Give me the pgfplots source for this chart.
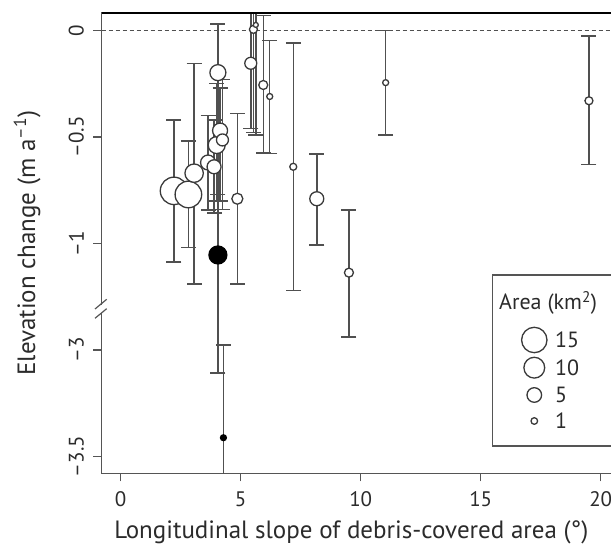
\documentclass[border=0pt]{standalone}
\usepackage{fontspec}
\setmainfont{PT Sans}
\usepackage{pgfplots}
\usepackage{pgfplotstable}
\pgfplotsset{compat=1.18}
\definecolor{barc}{HTML}{505050}
\definecolor{circc}{HTML}{3A3A3A}
\definecolor{axc}{HTML}{555555}
\definecolor{txtc}{HTML}{2B2B2B}

% y values below the break are stored shifted by +1.5 (so -3 -> -1.5)
\pgfplotstableread{
x     y       top     bot     r
2.22  -0.753  -0.42   -1.087  13.7
2.82  -0.77   -0.52   -1.02   13.3
3.06  -0.67   -0.154  -1.19   9.2
3.64  -0.62   -0.40   -0.843  7.5
3.89  -0.64   -0.42   -0.857  7
4.00  -0.538  -0.25   -0.80   8.5
4.05  -0.198  0.03    -0.77   8
4.14  -0.47   -0.27   -0.80   7.5
4.24  -0.514  -0.23   -0.84   6
4.86  -0.79   -0.39   -1.19   5.5
5.42  -0.154  0.30    -0.46   6
5.53  0.005   0.30    -0.48   4
5.63  0.026   0.30    -0.49   2.5
5.94  -0.256  0.07    -0.576  4.5
6.21  -0.31   -0.048  -0.577  3
7.19  -0.64   -0.06   -1.22   3.5
8.17  -0.79   -0.58   -1.007  7
9.51  -1.137  -0.843  -1.44   4.5
11.04 -0.245  0.0     -0.49   3
19.51 -0.33   -0.026  -0.63   4
}\glaciers

\pgfplotstableread{
x     y       top     bot     r
4.05  -1.054  -0.55   -1.607  9
4.28  -1.912  -1.477  -2.5    3
}\blackpts

\newcommand{\tickfont}{\fontsize{21bp}{25bp}\selectfont}
\newcommand{\legfont}{\fontsize{22bp}{26bp}\selectfont}
\newcommand{\lblfont}{\fontsize{25bp}{30bp}\selectfont}

\begin{document}
\begin{tikzpicture}
\begin{axis}[
  at={(101.5bp,70.7bp)}, anchor=south west,
  scale only axis,
  width=518.4bp, height=460.3bp,
  xmin=-0.8, xmax=20.8,
  ymin=-2.079, ymax=0.082,
  axis line style={draw=axc, line width=1.2bp},
  tick pos=left,
  tick align=outside,
  major tick length=8bp,
  tick style={draw=axc, line width=1.2bp},
  xtick={0,5,10,15,20},
  ytick={0,-0.5,-1,-1.5,-2},
  yticklabels={0,–0.5,–1,–3,–3.5},
  xticklabels={0,5,10,15,20},
  tick label style={font=\tickfont, text=txtc},
  xticklabel style={yshift=-7bp},
  yticklabel style={xshift=-6bp, rotate=90, anchor=south},
  every axis x label/.style={at={(axis description cs:0.482,-0.1406)}, anchor=base},
  every axis y label/.style={at={(axis description cs:-0.128,0.5)}, rotate=90, anchor=base},
  label style={font=\lblfont, text=txtc},
  xlabel={Longitudinal slope of debris-covered area (°)},
  ylabel={Elevation change (m a\textsuperscript{–1})},
]
\draw[barc, line width=1.4bp, dash pattern=on 4bp off 3bp]
  (axis cs:-0.8,0) -- (axis cs:20.8,0);

% error bars
\addplot[draw=none, mark=none, forget plot,
  error bars/.cd, y dir=both, y explicit,
  error bar style={draw=barc, line width=1.5bp},
  error mark options={rotate=90, draw=barc, line width=1.5bp, mark size=7.5bp}]
  table[x=x, y=y, y error plus expr=\thisrow{top}-\thisrow{y},
        y error minus expr=\thisrow{y}-\thisrow{bot}] {\glaciers};
\addplot[draw=none, mark=none, forget plot,
  error bars/.cd, y dir=both, y explicit,
  error bar style={draw=barc, line width=1.5bp},
  error mark options={rotate=90, draw=barc, line width=1.5bp, mark size=7.5bp}]
  table[x=x, y=y, y error plus expr=\thisrow{top}-\thisrow{y},
        y error minus expr=\thisrow{y}-\thisrow{bot}] {\blackpts};

% circles sized by area
\addplot[scatter, only marks, mark=*,
  scatter/use mapped color={draw=circc, fill=white},
  mark options={line width=1.3bp},
  visualization depends on={\thisrow{r} \as \rr},
  scatter/@pre marker code/.append style={/tikz/mark size=\rr bp}]
  table[x=x, y=y, meta=r] {\glaciers};
\addplot[scatter, only marks, mark=*,
  scatter/use mapped color={draw=black, fill=black},
  mark options={line width=1.2bp},
  visualization depends on={\thisrow{r} \as \rr},
  scatter/@pre marker code/.append style={/tikz/mark size=\rr bp}]
  table[x=x, y=y, meta=r] {\blackpts};

\draw[black, line width=1.5bp] (axis cs:-0.8,0.082) -- (axis cs:20.8,0.082);
\end{axis}

% pixel-style coordinates (origin top left)
\begin{scope}[x=1bp, y=-1bp, shift={(0bp,544bp)}]
  % axis break
  \fill[white] (97,305) rectangle (106,313);
  \draw[axc, line width=1.2bp] (95,309) -- (106.7,299.3);
  \draw[axc, line width=1.2bp] (95,318.3) -- (106.7,308.7);
  % legend
  \draw[axc, line width=1.2bp, fill=white] (640,275) -- (492.3,275) -- (492.3,446) -- (640,446);
  \node[font=\legfont, text=txtc, anchor=west, inner sep=0pt] at (499,303) {Area (km\textsuperscript{2})};
  \draw[circc, line width=1.3bp] (534.3,340) circle (12.7);
  \draw[circc, line width=1.3bp] (534.3,367.7) circle (10.4);
  \draw[circc, line width=1.3bp] (534.3,395) circle (7.3);
  \draw[circc, line width=1.3bp] (534.3,421) circle (3.3);
  \node[font=\legfont, text=txtc, anchor=west, inner sep=0pt] at (555,340) {15};
  \node[font=\legfont, text=txtc, anchor=west, inner sep=0pt] at (555,367.7) {10};
  \node[font=\legfont, text=txtc, anchor=west, inner sep=0pt] at (555,395) {5};
  \node[font=\legfont, text=txtc, anchor=west, inner sep=0pt] at (555,421) {1};
\end{scope}

\pgfresetboundingbox
\path[use as bounding box] (0,0) rectangle (611bp,544bp);
\end{tikzpicture}
\end{document}
